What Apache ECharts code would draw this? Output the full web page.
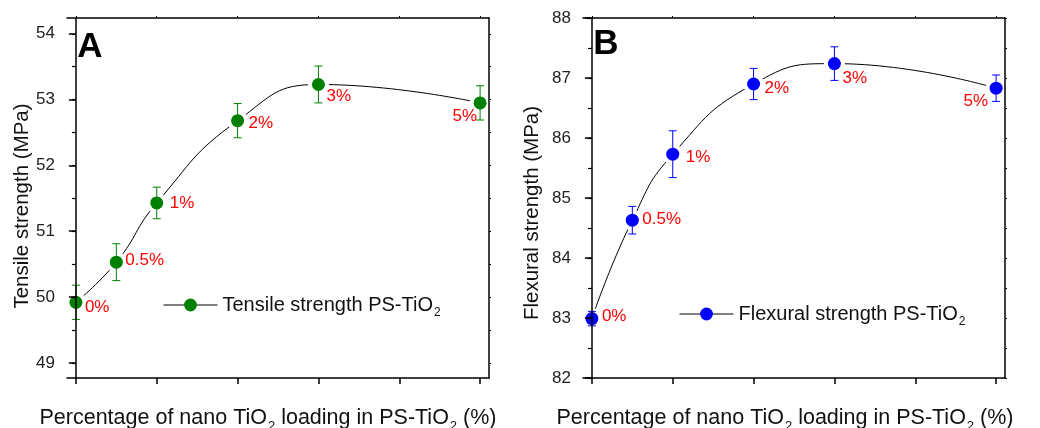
<!DOCTYPE html>
<html>
<head>
<meta charset="utf-8">
<script src="https://cdn.jsdelivr.net/npm/echarts@6/dist/echarts.min.js"></script>
<style>
html,body{margin:0;padding:0;background:#fff;}
#chart{width:1040px;height:428px;}
</style>
</head>
<body>
<div id="chart"></div>
<script>
// ---------- data ----------
const loadings = [0, 0.5, 1, 2, 3, 5];
const pointLabels = ['0%', '0.5%', '1%', '2%', '3%', '5%'];
const tensile = [49.92, 50.53, 51.43, 52.68, 53.23, 52.95];
const tensileErr = [0.26, 0.28, 0.24, 0.26, 0.28, 0.26];
const flexural = [82.99, 84.63, 85.73, 86.90, 87.24, 86.83];
const flexuralErr = [0.12, 0.23, 0.39, 0.26, 0.28, 0.22];
const xTicks = [0, 1, 2, 3, 4, 5];
const tensileTicks = [49, 50, 51, 52, 53, 54];
const flexuralTicks = [82, 83, 84, 85, 86, 87, 88];
const tensileName = 'Tensile strength PS-TiO2';
const flexuralName = 'Flexural strength PS-TiO2';

// ---------- style config ----------
const FONT = '"Liberation Sans", Arial, Helvetica, sans-serif';
const GREEN = '#008000';
const BLUE = '#0000ff';
const RED = '#ff0000';
const HALO = '#ffffff';
const labelPlaceA = [
  {position: 'right', offset: [-2.5, 5]},
  {position: 'right', offset: [-2.5, -1.5]},
  {position: 'right', offset: [1.5, 0]},
  {position: 'right', offset: [-0.5, 3]},
  {position: 'right', offset: [-3.5, 12]},
  {position: 'left', offset: [8.5, 13]}
];
const labelPlaceB = [
  {position: 'right', offset: [-1.5, -2]},
  {position: 'right', offset: [-1.5, -1]},
  {position: 'right', offset: [1.5, 3]},
  {position: 'right', offset: [-0.5, 4]},
  {position: 'right', offset: [-3.5, 14.5]},
  {position: 'left', offset: [3.5, 13]}
];

const chart = echarts.init(document.getElementById('chart'), null, {renderer: 'canvas'});

const halves = arr => arr.slice(0, -1).map(v => v + 0.5).concat(arr);

function axesFor(g, yMin, yMax, yTicks) {
  const line = {show: true, lineStyle: {color: '#000', width: 1.5}};
  const xs = [
    {gridIndex: g, type: 'value', position: 'bottom', min: -0.11, max: 5.11, z: 10,
     axisLine: line, splitLine: {show: false},
     axisTick: {show: true, inside: false, length: 6, lineStyle: {color: '#000', width: 1.5}, customValues: xTicks},
     axisLabel: {show: false}},
    {gridIndex: g, type: 'value', position: 'top', min: -0.11, max: 5.11, z: 10,
     axisLine: line, splitLine: {show: false},
     axisTick: {show: true, inside: false, length: 2, lineStyle: {color: '#000', width: 1}, customValues: xTicks},
     axisLabel: {show: false}}
  ];
  const ys = [
    {gridIndex: g, type: 'value', position: 'left', min: yMin, max: yMax, z: 10,
     axisLine: line, splitLine: {show: false},
     axisTick: {show: true, inside: false, length: 7, lineStyle: {color: '#000', width: 1.5}, customValues: yTicks},
     axisLabel: {show: true, customValues: yTicks, margin: 12, fontSize: 17, color: '#222', fontFamily: FONT}},
    {gridIndex: g, type: 'value', position: 'left', min: yMin, max: yMax, z: 10,
     axisLine: {show: false}, splitLine: {show: false},
     axisTick: {show: true, inside: false, length: 4, lineStyle: {color: '#000', width: 1.2}, customValues: halves(yTicks)},
     axisLabel: {show: false}},
    {gridIndex: g, type: 'value', position: 'right', min: yMin, max: yMax, z: 10,
     axisLine: line, splitLine: {show: false},
     axisTick: {show: true, inside: false, length: 2, lineStyle: {color: '#000', width: 1}, customValues: halves(yTicks)},
     axisLabel: {show: false}}
  ];
  return {xs, ys};
}

function errRender(color) {
  return function (params, api) {
    const x = api.value(0), y = api.value(1), e = api.value(2);
    const top = api.coord([x, y + e]);
    const bot = api.coord([x, y - e]);
    const hw = 4;
    const st = {stroke: color, lineWidth: 1};
    return {
      type: 'group',
      children: [
        {type: 'line', shape: {x1: top[0], y1: top[1], x2: bot[0], y2: bot[1]}, style: st},
        {type: 'line', shape: {x1: top[0] - hw, y1: top[1], x2: top[0] + hw, y2: top[1]}, style: st},
        {type: 'line', shape: {x1: bot[0] - hw, y1: bot[1], x2: bot[0] + hw, y2: bot[1]}, style: st}
      ]
    };
  };
}

function haloRender(params, api) {
  const c = api.coord([api.value(0), api.value(1)]);
  return {type: 'circle', shape: {cx: c[0], cy: c[1], r: 10.5}, style: {fill: HALO}};
}

function seriesFor(g, name, vals, errs, color, places) {
  const xi = g * 2, yi = g * 3;
  const pts = loadings.map((x, i) => [x, vals[i]]);
  return [
    {type: 'line', name: name, xAxisIndex: xi, yAxisIndex: yi, data: pts,
     smooth: 0.5, showSymbol: false, symbol: 'circle', symbolSize: 13, silent: true, z: 1,
     itemStyle: {color: color}, lineStyle: {color: '#000', width: 1}},
    {type: 'custom', name: name + ' halo', xAxisIndex: xi, yAxisIndex: yi, data: pts,
     renderItem: haloRender, silent: true, z: 2},
    {type: 'custom', name: name + ' err', xAxisIndex: xi, yAxisIndex: yi,
     data: loadings.map((x, i) => [x, vals[i], errs[i]]),
     renderItem: errRender(color), silent: true, z: 3},
    {type: 'scatter', name: name + ' pts', xAxisIndex: xi, yAxisIndex: yi,
     data: pts.map((p, i) => ({
       value: p,
       label: {show: true, formatter: pointLabels[i], position: places[i].position,
               offset: places[i].offset, distance: 5, color: RED, fontSize: 17, fontFamily: FONT}
     })),
     symbol: 'circle', symbolSize: 13, itemStyle: {color: color, opacity: 1}, silent: true, z: 4}
  ];
}

const aAx = axesFor(0, 48.77, 54.24, tensileTicks);
const bAx = axesFor(1, 82, 88, flexuralTicks);

const legendRich = {
  n: {fontSize: 20, fontFamily: FONT, color: '#111', lineHeight: 24},
  s: {fontSize: 12, fontFamily: FONT, color: '#111', lineHeight: 12, padding: [16, 0, 0, 1]}
};
const legendFmt = name => '{n|' + name.slice(0, -1) + '}{s|' + name.slice(-1) + '}';

function xName(cx) {
  return {
    type: 'text', x: cx, y: 418,
    style: {
      text: '{n|Percentage of nano TiO}{s|2}{n| loading in PS-TiO}{s|2}{n| (%)}',
      align: 'center', verticalAlign: 'middle',
      rich: {
        n: {fontSize: 21.5, fontFamily: FONT, fill: '#111', lineHeight: 26},
        s: {fontSize: 13, fontFamily: FONT, fill: '#111', lineHeight: 13, padding: [17, 0, 0, 1]}
      }
    }
  };
}
function yName(cx, cy, text) {
  return {
    type: 'text', x: cx, y: cy, rotation: Math.PI / 2,
    style: {text: text, align: 'center', verticalAlign: 'middle', fontSize: 20.5, fontFamily: FONT, fill: '#111'}
  };
}
function panelLetter(cx, cy, t) {
  return {
    type: 'text', x: cx, y: cy,
    style: {text: t, align: 'center', verticalAlign: 'middle', fontSize: 35, fontWeight: 'bold', fontFamily: FONT, fill: '#000'}
  };
}

const option = {
  animation: false,
  backgroundColor: '#fff',
  textStyle: {fontFamily: FONT},
  grid: [
    {left: 67, top: 18, width: 422, height: 360},
    {left: 583, top: 18, width: 422, height: 360}
  ],
  xAxis: aAx.xs.concat(bAx.xs),
  yAxis: aAx.ys.concat(bAx.ys),
  legend: [
    {data: [tensileName], left: 163, top: 291, padding: 0, itemWidth: 54, itemHeight: 16,
     formatter: legendFmt, textStyle: {rich: legendRich},
     lineStyle: {color: '#000', width: 1}, itemStyle: {color: GREEN, opacity: 1}, selectedMode: false},
    {data: [flexuralName], left: 679, top: 300, padding: 0, itemWidth: 54, itemHeight: 16,
     formatter: legendFmt, textStyle: {rich: legendRich},
     lineStyle: {color: '#000', width: 1}, itemStyle: {color: BLUE, opacity: 1}, selectedMode: false}
  ],
  graphic: [
    xName(268), xName(785),
    yName(22, 206, 'Tensile strength (MPa)'),
    yName(532, 213, 'Flexural strength (MPa)'),
    panelLetter(90, 47.5, 'A'),
    panelLetter(606, 44.5, 'B')
  ],
  series: seriesFor(0, tensileName, tensile, tensileErr, GREEN, labelPlaceA)
    .concat(seriesFor(1, flexuralName, flexural, flexuralErr, BLUE, labelPlaceB))
};
chart.setOption(option);
</script>
</body>
</html>
